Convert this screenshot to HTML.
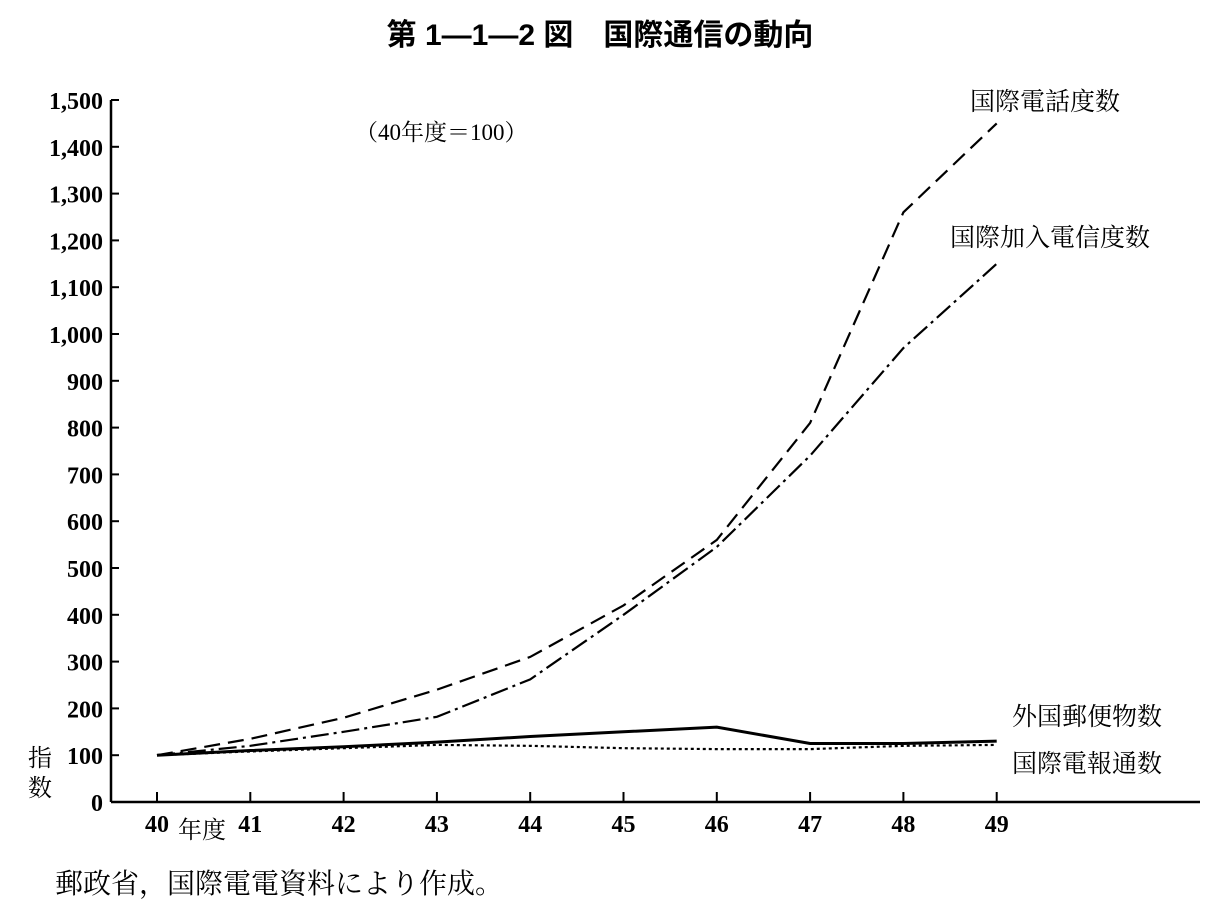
<!DOCTYPE html>
<html><head><meta charset="utf-8"><style>
body{margin:0;background:#fff;}
svg text{font-family:"Liberation Serif","Noto Serif CJK SC","Noto Sans CJK JP",serif;fill:#000;}
</style></head><body>
<svg id="chart" width="1205" height="917" xmlns="http://www.w3.org/2000/svg">
<text x="600" y="45" font-size="30" font-weight="bold" text-anchor="middle" style="font-family:'Liberation Sans','Noto Sans CJK JP',sans-serif">第 1—1—2 図　国際通信の動向</text>
<text x="355" y="140" font-size="23">（40年度＝100）</text>
<g id="axes"></g>
<g id="series"></g>
<text x="28" y="766" font-size="24">指</text>
<text x="28" y="796" font-size="24">数</text>
<text x="178" y="838" font-size="24">年度</text>
<text x="970" y="110" font-size="25">国際電話度数</text>
<text x="950" y="246" font-size="25">国際加入電信度数</text>
<text x="1012" y="725" font-size="25">外国郵便物数</text>
<text x="1012" y="772" font-size="25">国際電報通数</text>
<text x="55" y="893" font-size="28">郵政省，国際電電資料により作成。</text>
</svg>
<script>
const years=["40","41","42","43","44","45","46","47","48","49"];
const yTicks=[0,100,200,300,400,500,600,700,800,900,1000,1100,1200,1300,1400,1500];
const yTickLabels=["0","100","200","300","400","500","600","700","800","900","1,000","1,100","1,200","1,300","1,400","1,500"];
const telephone=[100,135,180,240,310,420,560,810,1260,1450];
const telex=[100,120,150,182,262,400,545,740,970,1150];
const mail=[100,110,118,128,140,150,160,125,125,130];
const telegram=[100,108,115,122,120,115,113,113,120,122];
const NS="http://www.w3.org/2000/svg";
const X0=111,Y0=802,YTOP=100;
const xs=i=>157+i*93.3;
const ys=v=>Y0-v*(Y0-YTOP)/1500;
function mk(t,a,p){const e=document.createElementNS(NS,t);for(const k in a)e.setAttribute(k,a[k]);p.appendChild(e);return e;}
const ax=document.getElementById('axes');
const yl=mk('line',{x1:X0,y1:YTOP,x2:X0,y2:Y0,stroke:'#000','stroke-width':2.5},ax);


const xl=mk('line',{x1:X0,y1:Y0,x2:1200,y2:Y0,stroke:'#000','stroke-width':2.5},ax);


yTicks.forEach((v,i)=>{
 const t=mk('line',{x1:X0,y1:ys(v),x2:X0+8,y2:ys(v),stroke:'#000','stroke-width':2},ax);
 
 
 const l=mk('text',{x:X0-8,y:ys(v)+9,'font-size':24,'text-anchor':'end','font-weight':'bold'},ax);
 l.textContent=yTickLabels[i];
 
 
});
years.forEach((y,i)=>{
 const t=mk('line',{x1:xs(i),y1:Y0,x2:xs(i),y2:Y0-10,stroke:'#000','stroke-width':2},ax);
 
 
 const l=mk('text',{x:xs(i),y:Y0+30,'font-size':24,'text-anchor':'middle','font-weight':'bold'},ax);
 l.textContent=y;
 
 
});
const sg=document.getElementById('series');
function line(d,dash,w,name){
 const p=mk('polyline',{points:d.map((v,i)=>xs(i)+','+ys(v)).join(' '),fill:'none',stroke:'#000','stroke-width':w,'stroke-dasharray':dash},sg);
 
 
}
line(telephone,'16,8',2.2,'series-telephone');
line(telex,'18,5,3,5',2.2,'series-telex');
line(mail,'none',3,'series-mail');
line(telegram,'3,3',2.2,'series-telegram');
</script>
</body></html>
